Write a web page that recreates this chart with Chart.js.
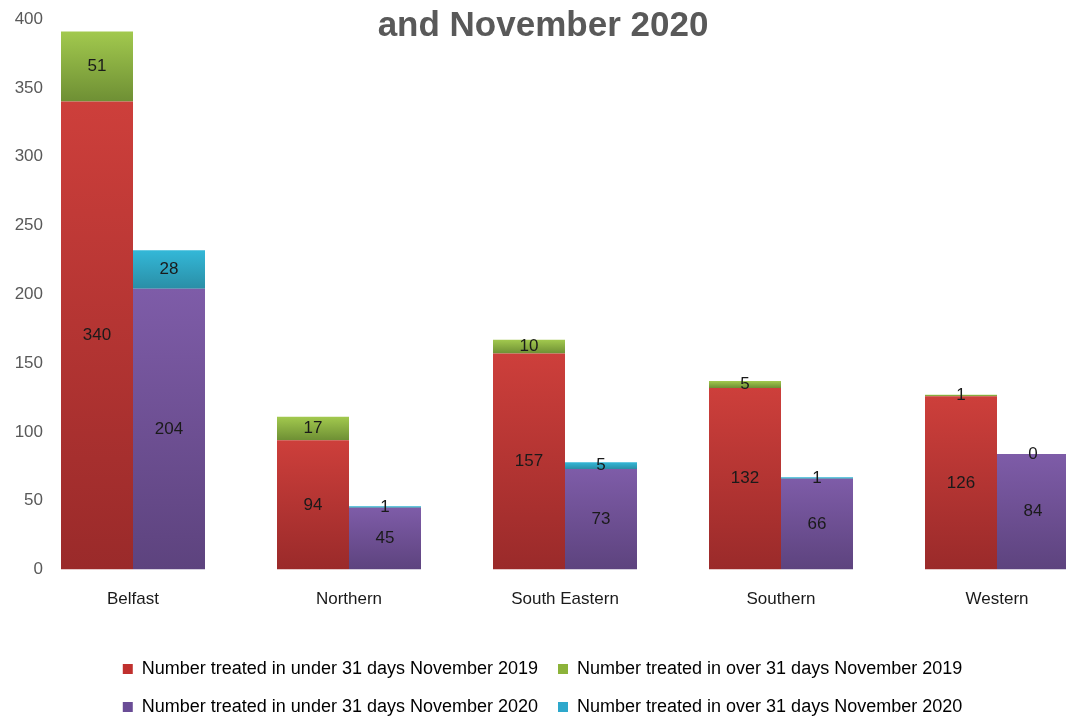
<!DOCTYPE html>
<html>
<head>
<meta charset="utf-8">
<script src="https://cdn.jsdelivr.net/npm/chart.js@4/dist/chart.umd.min.js"></script>
<style>
  html, body { margin: 0; padding: 0; background: #fff; overflow: hidden; }
  #wrap { width: 1105px; height: 726px; }
</style>
</head>
<body>
<div id="wrap"><canvas id="chart" width="1105" height="726"></canvas></div>
<script>
var categories = ['Belfast', 'Northern', 'South Eastern', 'Southern', 'Western'];
var under2019 = [340, 94, 157, 132, 126];
var over2019 = [51, 17, 10, 5, 1];
var under2020 = [204, 45, 73, 66, 84];
var over2020 = [28, 1, 5, 1, 0];
var yTicks = [0, 50, 100, 150, 200, 250, 300, 350, 400];
var titleText = 'and November 2020';

var FONT = "'Liberation Sans', Arial, sans-serif";

// vertical gradient per bar segment, light at top, dark at bottom
function barFill(light, dark, baseArr) {
  return function(ctx) {
    var chart = ctx.chart;
    if (ctx.type !== 'data' || !chart.chartArea || !chart.scales.y) return light;
    var base = baseArr ? baseArr[ctx.dataIndex] : 0;
    var y = chart.scales.y;
    var top = y.getPixelForValue(base + ctx.raw);
    var bottom = y.getPixelForValue(base);
    if (bottom - top < 1) bottom = top + 1;
    var g = chart.ctx.createLinearGradient(0, top, 0, bottom);
    g.addColorStop(0, light);
    g.addColorStop(1, dark);
    return g;
  };
}

var valueLabels = {
  id: 'valueLabels',
  afterDatasetsDraw: function(chart) {
    var ctx = chart.ctx;
    ctx.save();
    ctx.font = '17px ' + FONT;
    ctx.fillStyle = '#1a1a1a';
    ctx.textAlign = 'center';
    ctx.textBaseline = 'middle';
    chart.data.datasets.forEach(function(ds, i) {
      var meta = chart.getDatasetMeta(i);
      meta.data.forEach(function(el, j) {
        ctx.fillText(String(ds.data[j]), el.x, (el.y + el.base) / 2);
      });
    });
    ctx.restore();
  }
};

// y tick labels drawn by hand so they can overhang the narrow axis box
var yLabels = {
  id: 'yLabels',
  afterDraw: function(chart) {
    var ctx = chart.ctx;
    var y = chart.scales.y;
    ctx.save();
    ctx.font = '17px ' + FONT;
    ctx.fillStyle = '#595959';
    ctx.textAlign = 'right';
    ctx.textBaseline = 'middle';
    yTicks.forEach(function(v) {
      ctx.fillText(String(v), 43, y.getPixelForValue(v));
    });
    ctx.restore();
  }
};

// nudge the legend a bit left, like the original
var legendShift = {
  id: 'legendShift',
  afterLayout: function(chart) {
    if (chart.legend) {
      chart.legend.left -= 10;
      chart.legend.right -= 10;
    }
  }
};

var topTitle = {
  id: 'topTitle',
  afterDraw: function(chart) {
    var ctx = chart.ctx;
    ctx.save();
    ctx.font = 'bold 35px ' + FONT;
    ctx.fillStyle = '#595959';
    ctx.textAlign = 'center';
    ctx.textBaseline = 'middle';
    ctx.fillText(titleText, 543, 26);
    ctx.restore();
  }
};

new Chart(document.getElementById('chart'), {
  type: 'bar',
  data: {
    labels: categories,
    datasets: [
      {
        label: 'Number treated in under 31 days November 2019',
        data: under2019,
        stack: 's2019',
        backgroundColor: barFill('#cd3f3b', '#9a2a2a'),
        legendColor: '#c0302e'
      },
      {
        label: 'Number treated in over 31 days November 2019',
        data: over2019,
        stack: 's2019',
        backgroundColor: barFill('#a2c94e', '#6e8f34', under2019),
        legendColor: '#8cb33a'
      },
      {
        label: 'Number treated in under 31 days November 2020',
        data: under2020,
        stack: 's2020',
        backgroundColor: barFill('#7e5ca8', '#5d437e'),
        legendColor: '#6a4c96'
      },
      {
        label: 'Number treated in over 31 days November 2020',
        data: over2020,
        stack: 's2020',
        backgroundColor: barFill('#33b8d8', '#2a8ea6', under2020),
        legendColor: '#2ea8cc'
      }
    ]
  },
  options: {
    responsive: false,
    animation: false,
    layout: { padding: { top: 19, right: 0, bottom: 0, left: 0 } },
    datasets: { bar: { categoryPercentage: 2 / 3, barPercentage: 1 } },
    scales: {
      x: {
        stacked: true,
        afterFit: function(scale) { scale.height += 10; },
        grid: { display: false, drawTicks: false },
        border: { display: false },
        ticks: { color: '#1a1a1a', font: { family: FONT, size: 17 }, padding: 20 }
      },
      y: {
        stacked: true,
        min: 0,
        max: 400,
        afterFit: function(scale) { scale.width = 25; },
        grid: { display: false, drawTicks: false },
        border: { display: false },
        ticks: { display: false, stepSize: 50 }
      }
    },
    plugins: {
      tooltip: { enabled: false },
      legend: {
        position: 'bottom',
        labels: {
          color: '#595959',
          font: { family: FONT, size: 18 },
          boxWidth: 10,
          boxHeight: 10,
          padding: 20,
          generateLabels: function(chart) {
            return chart.data.datasets.map(function(ds, i) {
              return {
                text: ds.label,
                fillStyle: ds.legendColor,
                strokeStyle: ds.legendColor,
                lineWidth: 0,
                datasetIndex: i
              };
            });
          }
        }
      }
    }
  },
  plugins: [valueLabels, yLabels, legendShift, topTitle]
});
</script>
</body>
</html>
